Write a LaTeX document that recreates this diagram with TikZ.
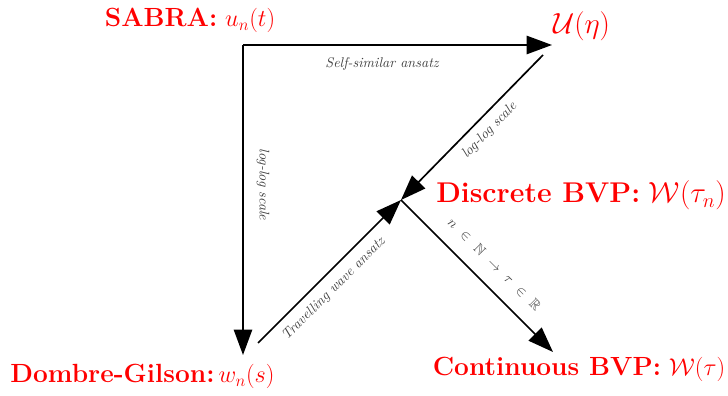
\documentclass[tikz,border=0pt]{standalone}
\usepackage{amsmath,amssymb}
\usetikzlibrary{arrows.meta}

\begin{document}
\begin{tikzpicture}[scale=1.,
    fleche/.style={very thick, -{Triangle[length=18pt,width=13pt]}},
    etiq/.style={red, font=\fontsize{18.7}{22}\selectfont, anchor=base},
    grand/.style={font=\fontsize{20.3}{24}\selectfont},
    note/.style={black!75, font=\itshape}]
            \useasboundingbox (0,0) rectangle (18.2,9.9);

            % Coordonnées
            \coordinate (S) at (6.075,8.775);
            \coordinate (Ue) at (13.8,8.775);
            \coordinate (Us) at (13.575,8.525);
            \coordinate (D) at (10.025,4.9);
            \coordinate (Ws) at (6.45,1.325);
            \coordinate (We) at (6.075,1.025);
            \coordinate (Ce) at (13.825,1.1);

            % Modèles
            \node[etiq] (sabra) at (4.75,9.225) {\textbf{SABRA:} $u_n(t)$};
            \node[etiq, font=\fontsize{21.2}{25}\selectfont] (U) at (14.54,9.05) {$\mathcal{U}(\eta)$};
            \node[etiq, grand] (disc) at (14.525,4.825) {\textbf{Discrete BVP:} $\mathcal{W}(\tau_n)$};
            \node[etiq] (cont) at (14.475,0.5) {\textbf{Continuous BVP:} $\mathcal{W}(\tau)$};
            \node[etiq] (dg) at (3.5625,0.325) {\textbf{Dombre-Gilson:}$\,w_n(s)$};

            % Flèches
            \draw[fleche] (S) -- (Ue) node[note, pos=0.45, below=5pt] {Self-similar ansatz};
            \draw[fleche] (S) -- (We) node[note, pos=0.45, sloped, above=5.8pt] {log-log scale};
            \draw[fleche] (Us) -- (D) node[note, pos=0.45, sloped, below=2pt] {log-log scale};
            \draw[fleche] (Ws) -- (D) node[note, pos=0.454, sloped, below=2.5pt] {Travelling wave ansatz};
            \draw[fleche] (D) -- (Ce) node[black!75, pos=0.52, sloped, above=7pt] {$n\mkern7mu\in\mkern7mu\mathbb{N}\mkern7mu\rightarrow\mkern7mu\tau\mkern7mu\in\mkern7mu\mathbb{R}$};
        \end{tikzpicture}
\end{document}
